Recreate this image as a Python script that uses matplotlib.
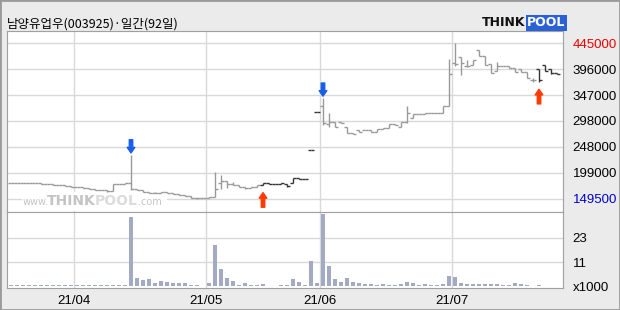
import numpy as np
import matplotlib
matplotlib.use("Agg")
import matplotlib.pyplot as plt
from matplotlib.collections import LineCollection
from matplotlib.patches import Rectangle

# daily OHLC, 92 trading days (21/03/17 .. 21/07/26)
opens = [179600, 179600, 178400, 179600, 179000, 179600, 177100, 176500, 175800, 175200,
         173300, 172000, 170800, 168900, 167000, 165700, 165700, 163800, 177100, 177100,
         178400, 167000, 165700, 162500, 160500, 160500, 161300, 159400, 158100, 156200,
         154800, 151000, 149900, 151000, 152900, 178400, 182800, 177100, 175200, 172000,
         168900, 172000, 175200, 178400, 177100, 176500, 177100, 179600, 188000, 186100,
         241800, 313600, 325600, 291300, 295700, 295700, 286200, 273600, 279900, 279900,
         279900, 276700, 281800, 283200, 290800, 286200, 295700, 303300, 310400, 309800,
         311700, 312900, 312900, 326200, 406900, 419500, 401800, 403700, 432200, 421400,
         405600, 392300, 402300, 401800, 397400, 396100, 389800, 375100, 396100, 403700,
         395500, 387900]
highs = [179600, 179600, 179600, 179600, 179600, 179600, 177100, 176500, 175800, 175200,
         173300, 172000, 170800, 168900, 167000, 165700, 165700, 177100, 177100, 178400,
         232300, 167000, 165700, 162500, 161300, 161300, 161300, 159400, 158100, 156200,
         154800, 151000, 151000, 152900, 200500, 194200, 183400, 181500, 175200, 172000,
         172000, 175200, 178400, 178400, 177100, 178400, 177100, 188000, 188000, 186100,
         241800, 313600, 340300, 311700, 295700, 295700, 286200, 273600, 279900, 279900,
         279900, 281800, 283200, 290800, 290800, 295700, 325600, 310400, 310400, 311700,
         312900, 312900, 326200, 414500, 445000, 419500, 413200, 413200, 432200, 421400,
         405600, 409400, 402300, 401800, 397400, 396100, 389800, 378900, 396100, 403700,
         395500, 387900]
lows = [179600, 178400, 178400, 179000, 179000, 177100, 176500, 175800, 175200, 173300,
        172000, 170800, 168900, 167000, 165700, 165700, 162500, 163800, 177100, 177100,
        165700, 165700, 162500, 160500, 160500, 160500, 159400, 158100, 156200, 154800,
        151000, 149500, 149900, 151000, 152900, 167000, 168900, 175200, 172000, 167000,
        168900, 172000, 175200, 177100, 176500, 176500, 172000, 179600, 186100, 186100,
        241800, 313600, 289400, 286200, 285100, 292700, 273600, 272300, 276700, 279900,
        276700, 276700, 281800, 283200, 289400, 286200, 292700, 303300, 309800, 309800,
        311700, 312900, 312900, 325600, 401800, 384600, 399900, 403700, 421400, 403700,
        387900, 392300, 401800, 397400, 390900, 389800, 379500, 371900, 371900, 392300,
        386500, 386500]
closes = [179600, 178400, 179600, 179000, 179600, 177100, 176500, 175800, 175200, 173300,
          172000, 170800, 168900, 167000, 165700, 165700, 163800, 177100, 177100, 178400,
          167000, 165700, 162500, 160500, 160500, 161300, 159400, 158100, 156200, 154800,
          151000, 149900, 151000, 152900, 167000, 183400, 177100, 175200, 172000, 168900,
          172000, 175200, 178400, 177100, 176500, 178400, 173300, 188000, 186100, 186100,
          241800, 313600, 292700, 295700, 286200, 292700, 273600, 272300, 276700, 279900,
          276700, 281800, 283200, 290800, 289400, 295700, 311700, 310400, 309800, 311700,
          312900, 312900, 326200, 386000, 405600, 406900, 401800, 413200, 421400, 403700,
          387900, 402300, 401800, 397400, 390900, 389800, 379500, 375100, 375100, 392300,
          387900, 386500]
# volume in thousands
volumes = [0.4] * 20 + [
    33.1, 3.9, 3.0, 3.5, 1.5, 2.5, 2.0, 1.7, 1.5, 1.4,
    0.4, 0.7, 0.3, 1.7, 19.8, 8.2, 3.9, 2.5, 0.6, 1.5,
    0.7, 0.7, 1.0, 0.3, 0.3, 0.4, 0.4, 3.5, 2.0, 0.6,
    12.1, 1.5, 34.7, 9.7, 3.5, 2.2, 3.9, 2.2, 1.7, 1.1,
    1.1, 0.7, 1.0, 0.7, 0.7, 1.1, 2.2, 1.5, 0.6, 1.1,
    0.7, 0.7, 1.1, 4.8, 4.3, 1.4, 1.1, 1.1, 1.1, 1.1,
    1.1, 1.1, 0.7, 0.7, 1.5, 1.1, 0.7, 0.3, 0.7, 0.3,
    0.3, 0.3]
dark_days = list(range(42, 52)) + [88, 89, 90, 91]
sell_days = [20, 52]   # blue arrows
buy_days = [42, 88]    # red arrows
month_starts = [10.5, 32.5, 51.5, 73.5]
month_labels = ["21/04", "21/05", "21/06", "21/07"]
price_labels = ["149500", "199000", "248000", "298000", "347000", "396000", "445000"]

num_font = ["Liberation Sans Narrow", "Liberation Sans", "DejaVu Sans"]
W, H = 620, 310

fig = plt.figure(figsize=(6.2, 3.1), dpi=100, facecolor="#ebebeb")
fig.patches.append(Rectangle((0, 0), 1, 1, transform=fig.transFigure, fill=False,
                             edgecolor="#9a9a9a", lw=2))

ax = fig.add_axes([7 / W, 1 - 212 / H, 556 / W, 181 / H])
axv = fig.add_axes([7 / W, 1 - 288 / H, 556 / W, 76 / H], sharex=ax)
for a in (ax, axv):
    a.set_facecolor("white")
    for s in a.spines.values():
        s.set_color("#a0a0a0")
    for m in month_starts:
        a.axvline(m, color="#d9d9d9", lw=1, zorder=0)

n = len(closes)
x = np.arange(n)

# price panel
pmin, pmax = min(lows), max(highs)
levels = np.linspace(pmin, pmax, len(price_labels))
for lv in levels:
    ax.axhline(lv, color="#d9d9d9", lw=1, zorder=0)

segs, cols = [], []
for i in range(n):
    c = "#333333" if i in dark_days else "#999999"
    segs.append([(i, lows[i]), (i, highs[i])])
    segs.append([(i - 0.42, opens[i]), (i, opens[i])])
    segs.append([(i, closes[i]), (i + 0.42, closes[i])])
    cols += [c, c, c]
ax.add_collection(LineCollection(segs, colors=cols, linewidths=1.0, zorder=3))

for i in sell_days:
    ax.annotate("", xy=(i, highs[i]), xytext=(0, 11), textcoords="offset points",
                arrowprops=dict(arrowstyle="simple,head_width=0.55,head_length=0.4,tail_width=0.25",
                                color="#1a5ee8", shrinkA=0, shrinkB=1.5), zorder=4)
for i in buy_days:
    ax.annotate("", xy=(i, lows[i]), xytext=(0, -16), textcoords="offset points",
                arrowprops=dict(arrowstyle="simple,head_width=0.55,head_length=0.4,tail_width=0.25",
                                color="#ff3a00", shrinkA=0, shrinkB=5.5), zorder=4)

ax.set_xlim(-0.67, 92)
ax.set_ylim(123800, 468400)
ax.yaxis.tick_right()
ax.set_yticks(levels)
ax.set_yticklabels(price_labels, fontsize=9.5, family=num_font)
ax.get_yticklabels()[0].set_color("#0000cc")
ax.get_yticklabels()[-1].set_color("#ee0000")
ax.tick_params(length=0, pad=7)
ax.tick_params(axis="x", labelbottom=False)

# watermark
ax.add_patch(Rectangle((0.027, 0.008), 0.26, 0.1, transform=ax.transAxes,
                       facecolor="white", edgecolor="none", zorder=1))
wm = [("www.", 0.028, 7, "normal", "#c4c4c4"),
      ("THINK", 0.072, 10, "bold", "#c4c4c4"),
      ("POOL", 0.158, 10, "bold", "#dcdcdc"),
      (".com", 0.236, 7, "normal", "#c4c4c4")]
for txt, xf, fs, fw, col in wm:
    ax.text(xf, 0.04, txt, transform=ax.transAxes, fontsize=fs, fontweight=fw,
            color=col, va="baseline", ha="left", zorder=2)

# volume panel
vmax = max(volumes)
axv.bar(x, volumes, width=0.72, color="#a2abc3", zorder=3)
vlev = [vmax / 3, vmax * 2 / 3]
for lv in vlev:
    axv.axhline(lv, color="#d9d9d9", lw=1, zorder=0)
axv.set_ylim(-0.86, 35.6)
axv.yaxis.tick_right()
axv.set_yticks([0] + vlev)
axv.set_yticklabels(["x1000"] + [str(int(v)) for v in vlev], fontsize=9.5, family=num_font)
axv.set_xticks(month_starts)
axv.set_xticklabels(month_labels, fontsize=9.5, family=num_font)
axv.tick_params(length=0, pad=7)
axv.tick_params(axis="x", pad=5)

# title and logo
fig.text(7 / W, 1 - 28 / H, "남양유업우(003925)·일간(92일)", fontsize=9,
         family=["Noto Sans CJK KR", "DejaVu Sans"], va="baseline")
fig.text(482 / W, 1 - 26 / H, "THINK", fontsize=9, fontweight="bold", color="#111111",
         va="baseline")
fig.text(527 / W, 1 - 26 / H, "POOL", fontsize=9, fontweight="bold", color="white",
         va="baseline",
         bbox=dict(boxstyle="square,pad=0.12", facecolor="#2a62d6", edgecolor="none"))

fig.savefig("out.png", dpi=100, facecolor=fig.get_facecolor())
